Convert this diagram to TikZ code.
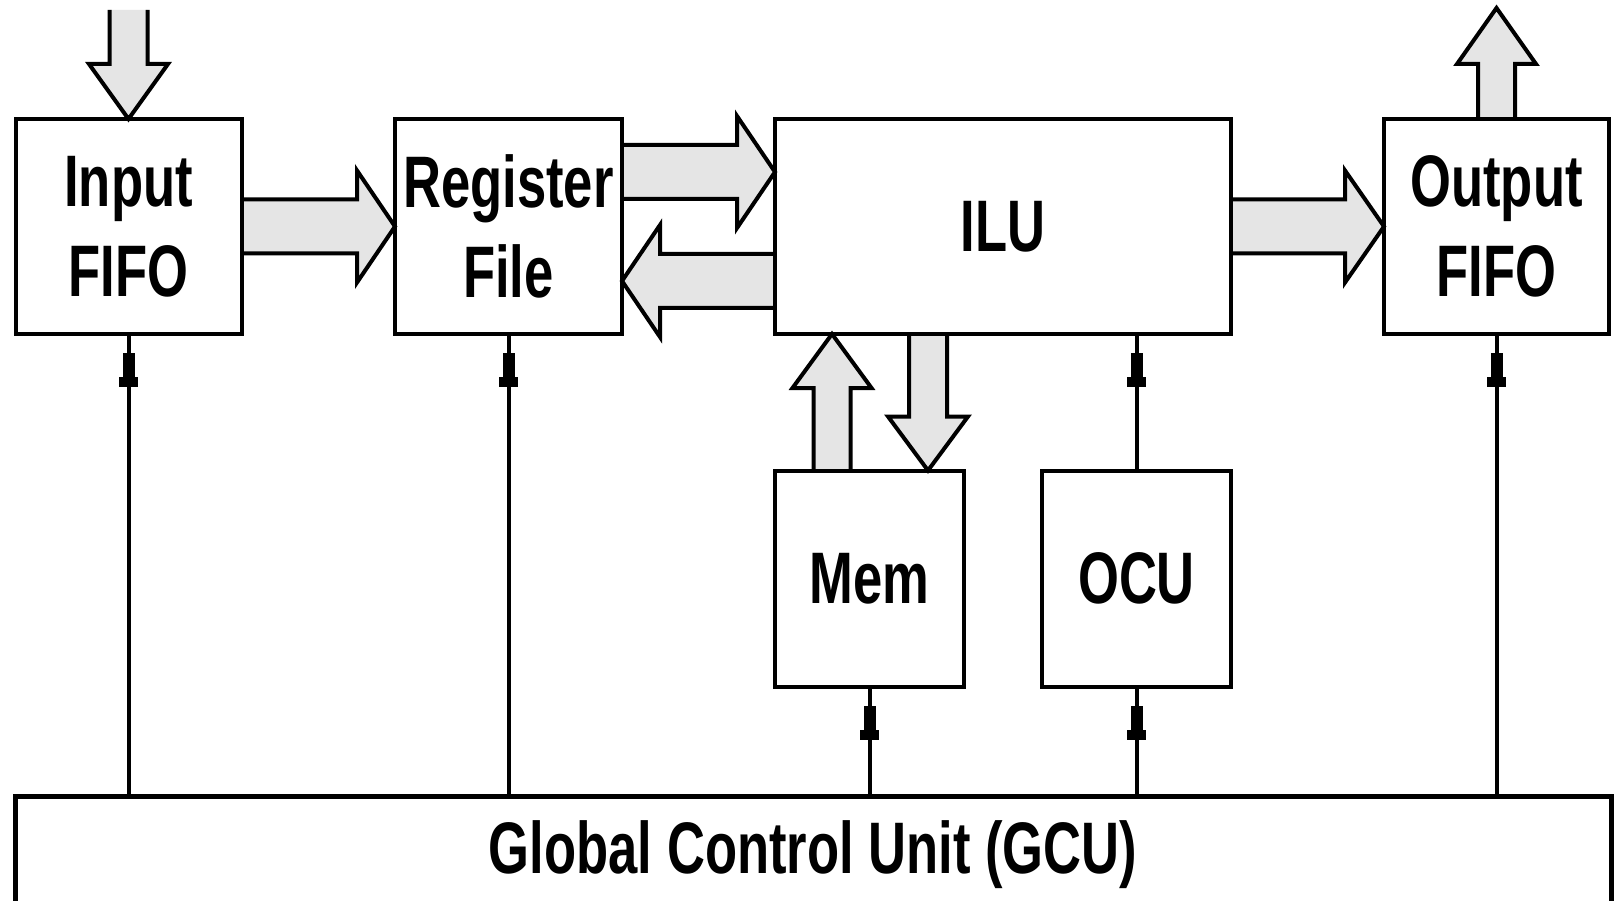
\documentclass[tikz,border=0pt]{standalone}
\usepackage{fontspec}
\newfontfamily\labfont{Liberation Sans}[FakeStretch=0.72]
\usetikzlibrary{calc,decorations.markings}
\pgfdeclarelayer{background}
\pgfsetlayers{background,main}
\definecolor{arrowfill}{RGB}{229,229,229}

\tikzset{
  unit/.style={draw, line width=4pt, inner sep=0pt, outer sep=0pt, align=center,
    font=\labfont\bfseries\fontsize{73}{90}\selectfont},
  fatarrow/.style={draw, fill=arrowfill, line width=4pt},
  ctrl/.style={line width=4pt, postaction={decorate},
    decoration={markings, mark=at position -19pt with {
      \fill (-24,-6) rectangle (0,6);
      \fill (-34,-9.5) rectangle (-24,9.5);}}},
}

% wide outlined arrow: from, to, shaft half width, head half width, head length
\newcommand\blockarrow[5]{%
  \coordinate (ba-m) at ($(#2)!#5!(#1)$);
  \filldraw[fatarrow] ($(#1)!#3!90:(#2)$) -- ($(ba-m)!#3!90:(#2)$)
    -- ($(ba-m)!#4!90:(#2)$) -- (#2) -- ($(ba-m)!#4!-90:(#2)$)
    -- ($(ba-m)!#3!-90:(#2)$) -- ($(#1)!#3!-90:(#2)$);
}

\begin{document}
\begin{tikzpicture}[x=1pt,y=-1pt]
\useasboundingbox (0,0) rectangle (1615,901);
\clip (0,0) rectangle (1615,901);
\begin{pgfonlayer}{background}
  \fill[white] (0,0) rectangle (1615,901);
\end{pgfonlayer}

% functional units
\node[unit, minimum width=226pt, minimum height=215pt] (input) at (128.5,226.5) {Input\\FIFO};
\node[unit, minimum width=227pt, minimum height=215pt] (reg) at (508.5,226.5) {Register\\File};
\node[unit, minimum width=456pt, minimum height=215pt] (ilu) at (1003,226.5) {ILU};
\node[unit, minimum width=225pt, minimum height=215pt] (output) at (1496.5,226.5) {Output\\FIFO};
\node[unit, minimum width=189pt, minimum height=216.5pt] (mem) at (869.5,578.75) {Mem};
\node[unit, minimum width=189pt, minimum height=216.5pt] (ocu) at (1136.5,578.75) {OCU};

% global control unit
\node[draw, line width=5pt, inner sep=0pt, outer sep=0pt, minimum width=1595.5pt,
  minimum height=300pt, anchor=north west] (gcu) at (15.5,796) {};
\node[font=\labfont\bfseries\fontsize{73}{90}\selectfont, anchor=base] (gcutext) at (813,873)
  {Global Control Unit (GCU)};

% data paths
\coordinate (feed) at ($(input.north)+(0,-109)$);
\coordinate (drain) at ($(output.north)+(0,-111)$);
\coordinate (r2i-a) at ($(reg.east)+(0,-54.5)$);
\coordinate (r2i-b) at ($(ilu.west)+(0,-54.5)$);
\coordinate (i2r-a) at ($(ilu.west)+(0,54.5)$);
\coordinate (i2r-b) at ($(reg.east)+(0,54.5)$);
\coordinate (m2i-a) at ($(mem.north)+(-37.5,0)$);
\coordinate (m2i-b) at (m2i-a |- ilu.south);
\coordinate (i2m-b) at ($(mem.north)+(58.5,0)$);
\coordinate (i2m-a) at (i2m-b |- ilu.south);

\begin{pgfonlayer}{background}
  \blockarrow{feed}{input.north}{19pt}{39.5pt}{55pt}
  \blockarrow{input.east}{reg.west}{27pt}{56pt}{38pt}
  \blockarrow{r2i-a}{r2i-b}{27pt}{56pt}{38pt}
  \blockarrow{i2r-a}{i2r-b}{27pt}{56pt}{38pt}
  \blockarrow{ilu.east}{output.west}{27pt}{56pt}{39pt}
  \blockarrow{m2i-a}{m2i-b}{18.5pt}{39.5pt}{54pt}
  \blockarrow{i2m-a}{i2m-b}{19pt}{40pt}{54pt}
  \blockarrow{output.north}{drain}{18.5pt}{39.5pt}{56pt}
\end{pgfonlayer}

% control lines
\draw[ctrl] (input.south |- gcu.north) -- (input.south);
\draw[ctrl] (reg.south |- gcu.north) -- (reg.south);
\draw[ctrl] (mem.south |- gcu.north) -- (mem.south);
\draw[ctrl] (ocu.south |- gcu.north) -- (ocu.south);
\draw[ctrl] (output.south |- gcu.north) -- (output.south);
\draw[ctrl] (ocu.north) -- (ocu.north |- ilu.south);
\end{tikzpicture}
\end{document}
